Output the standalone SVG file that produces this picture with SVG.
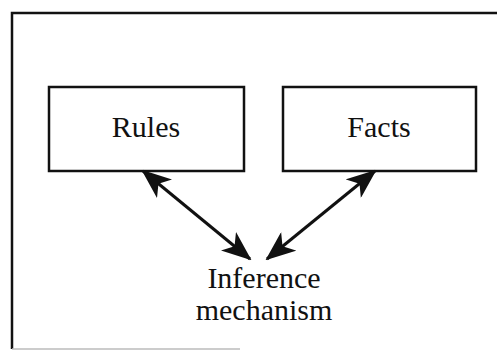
<svg xmlns="http://www.w3.org/2000/svg" width="497" height="350" viewBox="0 0 497 350">
  <style>
    .frame { fill: none; stroke: #111; stroke-width: 2.5; }
    .box { fill: #fff; stroke: #111; stroke-width: 2.5; }
    .label { font-family: "Liberation Serif", "Times New Roman", serif; font-size: 30px; fill: #111; text-anchor: middle; }
    .link { fill: none; stroke: #111; stroke-width: 3; }
  </style>
  <defs>
    <marker id="barb" viewBox="0 0 30 24" refX="28" refY="12" markerWidth="30" markerHeight="24" markerUnits="userSpaceOnUse" orient="auto-start-reverse">
      <path d="M0,0 L30,12 L0,24 L8,12 Z" fill="#111"/>
    </marker>
  </defs>
  <rect width="497" height="350" fill="#fff"/>
  <!-- outer frame -->
  <path class="frame" d="M12,349 L12,13 L497,13"/>
  <path d="M12,349 L240,349" stroke="#bbb" stroke-width="1.5" fill="none"/>

  <g id="rules">
    <rect class="box" x="49" y="87" width="195" height="84"/>
    <text class="label" x="146" y="137">Rules</text>
  </g>
  <g id="facts">
    <rect class="box" x="283" y="87" width="193" height="84"/>
    <text class="label" x="379" y="137">Facts</text>
  </g>
  <g id="inference">
    <text class="label" x="264" y="288">Inference</text>
    <text class="label" x="264" y="320">mechanism</text>
  </g>

  <g id="connectors">
    <line class="link" x1="143" y1="171" x2="250" y2="259" marker-start="url(#barb)" marker-end="url(#barb)"/>
    <line class="link" x1="375" y1="171" x2="267" y2="259" marker-start="url(#barb)" marker-end="url(#barb)"/>
  </g>
</svg>
